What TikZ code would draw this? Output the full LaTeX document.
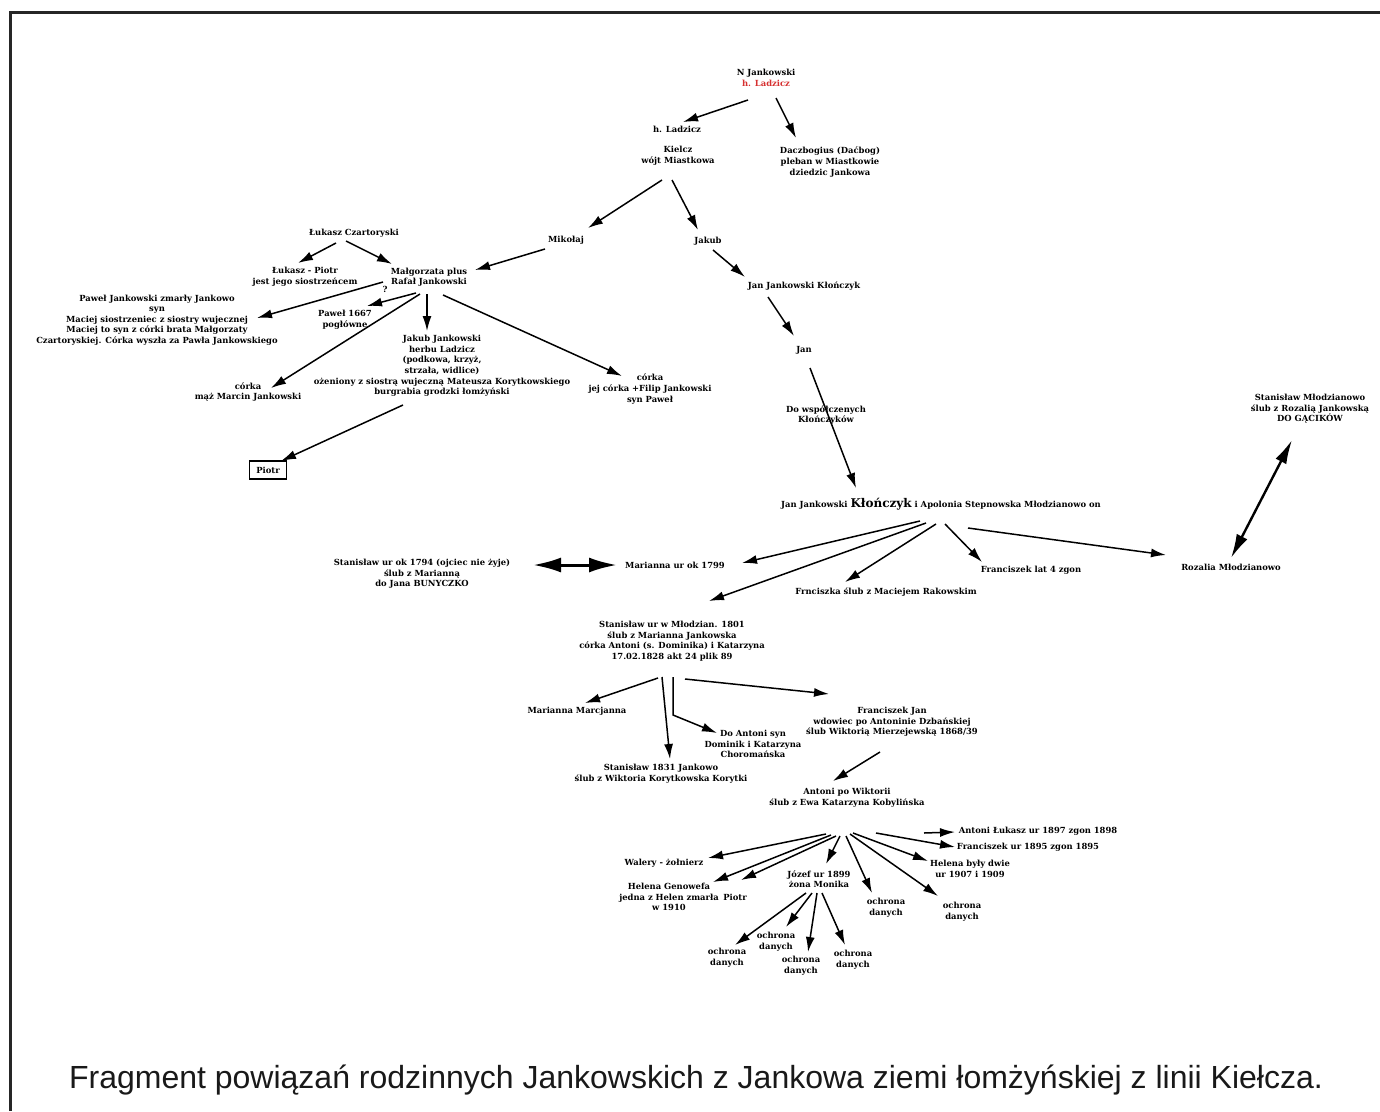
\documentclass[tikz,border=0pt]{standalone}
\usepackage{fontspec}
\usepackage{xcolor}
\usepackage{tikz}
\usetikzlibrary{arrows.meta,calc}
\newfontfamily\treefont{DejaVu Serif}
\newfontfamily\capfont{Liberation Sans}
\definecolor{ladred}{RGB}{214,48,48}
\tikzset{
  person/.style={font=\treefont\bfseries\fontsize{8.4}{10.6}\selectfont, align=center, inner sep=1pt},
  boxed/.style={person, draw, line width=1.5pt, minimum width=37, minimum height=18, inner sep=0pt},
  kin/.style={-{Latex[length=15pt,width=9pt]}, line width=1.5pt},
  bond/.style={{Latex[length=28pt,width=15pt]}-{Latex[length=28pt,width=15pt]}, line width=3pt},
  pairline/.style={{Latex[length=24pt,width=12pt]}-{Latex[length=24pt,width=12pt]}, line width=2.4pt},
  frame/.style={draw=black!85, line width=3pt},
  caption/.style={font=\capfont\fontsize{32}{36}\selectfont, text=black!90, inner sep=0pt}
}

\begin{document}
\begin{tikzpicture}[x=1pt,y=-1pt]
  \useasboundingbox (0,0) rectangle (1380,1111);
  \draw[frame] (10,1111) -- (10,12) -- (1380,12);
  % top of the line
  \node[person] (nj) at (766,78) {N Jankowski\\\textcolor{ladred}{h. Ladzicz}};
  \node[person] (ladzicz) at (677,129) {h. Ladzicz};
  \node[person] (kielcz) at (678,156) {Kielcz\\wójt Miastkowa};
  \node[person] (dacz) at (830,162) {Daczbogius (Daćbog)\\pleban w Miastkowie\\dziedzic Jankowa};
  \node[person] (mikolaj) at (566,240) {Mikołaj};
  \node[person] (jakub) at (708,241) {Jakub};
  \node[person] (janklon) at (804,286) {Jan Jankowski Kłończyk};
  \node[person] (jan) at (804,350) {Jan};
  \node[person] (dowsp) at (826,415) {Do współczenych\\Kłończyków};
  % Czartoryscy
  \node[person] (lukasz) at (354,233) {Łukasz Czartoryski};
  \node[person] (lukpiotr) at (305,277) {Łukasz - Piotr\\jest jego siostrzeńcem};
  \node[person] (malg) at (429,277) {Małgorzata plus\\Rafał Jankowski};
  \node[person] (pytanie) at (385,289) {?};
  \node[person] (pawelj) at (157,320) {Paweł Jankowski zmarły Jankowo\\syn\\Maciej siostrzeniec z siostry wujecznej\\Maciej to syn z córki brata Małgorzaty\\Czartoryskiej. Córka wyszła za Pawła Jankowskiego};
  \node[person] (pawel1667) at (345,320) {Paweł 1667\\pogłówne};
  \node[person] (jakubj) at (442,366) {Jakub Jankowski\\herbu Ladzicz\\(podkowa, krzyż,\\strzała, widlice)\\ożeniony z siostrą wujeczną Mateusza Korytkowskiego\\burgrabia grodzki łomżyński};
  \node[person] (corka1) at (248,392) {córka\\mąż Marcin Jankowski};
  \node[boxed] (piotr1) at (268,470) {Piotr};
  \node[person] (corka2) at (650,389) {córka\\jej córka +Filip Jankowski\\syn Paweł};
  % Kłończykowie
  \node[person] (para) at (941,504) {Jan Jankowski {\fontsize{12}{12}\selectfont Kłończyk} i Apolonia Stepnowska Młodzianowo on};
  \node[person] (stan1794) at (422,574) {Stanisław ur ok 1794 (ojciec nie żyje)\\ślub z Marianną\\do Jana BUNYCZKO};
  \node[person] (marianna) at (675,565) {Marianna ur ok 1799};
  \node[person] (fr4) at (1031,570) {Franciszek lat 4 zgon};
  \node[person] (frnc) at (886,592) {Frnciszka ślub z Maciejem Rakowskim};
  \node[person] (rozalia) at (1231,567) {Rozalia Młodzianowo};
  \node[person] (stanmlodz) at (1310,409) {Stanisław Młodzianowo\\ślub z Rozalią Jankowską\\DO GĄCIKÓW};
  \node[person] (stan1801) at (672,641) {Stanisław ur w Młodzian. 1801\\ślub z Marianna Jankowska\\córka Antoni (s. Dominika) i Katarzyna\\17.02.1828 akt 24 plik 89};
  \node[person] (mmarc) at (577,711) {Marianna Marcjanna};
  \node[person] (stan1831) at (661,774) {Stanisław 1831 Jankowo\\ślub z Wiktoria Korytkowska Korytki};
  \node[person] (doantoni) at (753,744) {Do Antoni syn\\Dominik i Katarzyna\\Choromańska};
  \node[person] (franjan) at (892,722) {Franciszek Jan\\wdowiec po Antoninie Dzbańskiej\\ślub Wiktorią Mierzejewską 1868/39};
  \node[person] (antoni) at (847,798) {Antoni po Wiktorii\\ślub z Ewa Katarzyna Kobylińska};
  \node[person] (walery) at (664,863) {Walery - żołnierz};
  \node[person] (helgen) at (669,897) {Helena Genowefa\\jedna z Helen zmarła\\w 1910};
  \node[person] (piotr2) at (735,897) {Piotr};
  \node[person] (jozef) at (819,879) {Józef ur 1899\\żona Monika};
  \node[person] (och1) at (886,908) {ochrona\\danych};
  \node[person] (och2) at (962,912) {ochrona\\danych};
  \node[person] (helbyly) at (970,869) {Helena były dwie\\ur 1907 i 1909};
  \node[person] (fr1895) at (1028,847) {Franciszek ur 1895 zgon 1895};
  \node[person] (antluk) at (1038,831) {Antoni Łukasz ur 1897 zgon 1898};
  \node[person] (och3) at (727,958) {ochrona\\danych};
  \node[person] (och4) at (776,942) {ochrona\\danych};
  \node[person] (och5) at (801,966) {ochrona\\danych};
  \node[person] (och6) at (853,960) {ochrona\\danych};
  \coordinate (lukstub) at (924,833);
  \node[caption, anchor=base] (cap) at (696,1088) {Fragment powiązań rodzinnych Jankowskich z Jankowa ziemi łomżyńskiej z linii Kiełcza.};
  % connectors
  \draw[kin] ([shift={(-18,22)}]nj.center) -- ([shift={(6,-7)}]ladzicz.center);
  \draw[kin] ([shift={(10,20)}]nj.center) -- ([shift={(-34,-24)}]dacz.center);
  \draw[kin] ([shift={(-16,24)}]kielcz.center) -- ([shift={(22,-12)}]mikolaj.center);
  \draw[kin] ([shift={(-6,24)}]kielcz.center) -- ([shift={(-10,-11)}]jakub.center);
  \draw[kin] ([shift={(-21,9)}]mikolaj.center) -- ([shift={(46,-7)}]malg.center);
  \draw[kin] ([shift={(5,9)}]jakub.center) -- ([shift={(-59,-9)}]janklon.center);
  \draw[kin] ([shift={(-36,11)}]janklon.center) -- ([shift={(-10,-14)}]jan.center);
  \draw[kin] ([shift={(6,18)}]jan.center) -- ([shift={(-85,-16)}]para.center);
  \draw[kin] ([shift={(-18,10)}]lukasz.center) -- ([shift={(-7,-14)}]lukpiotr.center);
  \draw[kin] ([shift={(-8,8)}]lukasz.center) -- ([shift={(-37,-13)}]malg.center);
  \draw[kin] ([shift={(-46,5)}]malg.center) -- ([shift={(100,-2)}]pawelj.center);
  \draw[kin] ([shift={(-13,16)}]malg.center) -- ([shift={(22,-14)}]pawel1667.center);
  \draw[kin] ([shift={(-9,17)}]malg.center) -- ([shift={(23,-4)}]corka1.center);
  \draw[kin] ([shift={(-2,17)}]malg.center) -- ([shift={(-15,-35)}]jakubj.center);
  \draw[kin] ([shift={(14,18)}]malg.center) -- ([shift={(-28,-13)}]corka2.center);
  \draw[kin] ([shift={(-39,39)}]jakubj.center) -- ([shift={(13,-9)}]piotr1.center);
  \draw[kin] ([shift={(-21,17)}]para.center) -- ([shift={(67,-2)}]marianna.center);
  \draw[kin] ([shift={(-15,19)}]para.center) -- ([shift={(37,-40)}]stan1801.center);
  \draw[kin] ([shift={(-5,20)}]para.center) -- ([shift={(-41,-10)}]frnc.center);
  \draw[kin] ([shift={(4,20)}]para.center) -- ([shift={(-49,-8)}]fr4.center);
  \draw[kin] ([shift={(27,24)}]para.center) -- ([shift={(-65,-12)}]rozalia.center);
  \draw[bond] ([shift={(111,-9)}]stan1794.center) -- ([shift={(-58,0)}]marianna.center);
  \draw[pairline] ([shift={(0,-9)}]rozalia.center) -- ([shift={(-18,31)}]stanmlodz.center);
  \draw[kin] ([shift={(-14,37)}]stan1801.center) -- ([shift={(8,-8)}]mmarc.center);
  \draw[kin] ([shift={(-10,36)}]stan1801.center) -- ([shift={(9,-15)}]stan1831.center);
  \draw[kin] ([shift={(1,36)}]stan1801.center) -- ([shift={(1,74)}]stan1801.center) -- ([shift={(-36,-11)}]doantoni.center);
  \draw[kin] ([shift={(13,38)}]stan1801.center) -- ([shift={(-63,-28)}]franjan.center);
  \draw[kin] ([shift={(-12,30)}]franjan.center) -- ([shift={(-14,-17)}]antoni.center);
  \draw[kin] ([shift={(-21,36)}]antoni.center) -- ([shift={(44,-5)}]walery.center);
  \draw[kin] ([shift={(-16,37)}]antoni.center) -- ([shift={(44,-15)}]helgen.center);
  \draw[kin] ([shift={(-11,38)}]antoni.center) -- ([shift={(6,-17)}]piotr2.center);
  \draw[kin] ([shift={(-7,38)}]antoni.center) -- ([shift={(7,-15)}]jozef.center);
  \draw[kin] ([shift={(-1,38)}]antoni.center) -- ([shift={(-14,-15)}]och1.center);
  \draw[kin] ([shift={(3,36)}]antoni.center) -- ([shift={(-24,-16)}]och2.center);
  \draw[kin] ([shift={(6,35)}]antoni.center) -- ([shift={(-42,-8)}]helbyly.center);
  \draw[kin] ([shift={(29,35)}]antoni.center) -- ([shift={(-73,0)}]fr1895.center);
  \draw[kin] (lukstub) -- ([shift={(-83,1)}]antluk.center);
  \draw[kin] ([shift={(-13,14)}]jozef.center) -- ([shift={(8,-13)}]och3.center);
  \draw[kin] ([shift={(-7,14)}]jozef.center) -- ([shift={(10,-15)}]och4.center);
  \draw[kin] ([shift={(-2,14)}]jozef.center) -- ([shift={(7,-14)}]och5.center);
  \draw[kin] ([shift={(3,14)}]jozef.center) -- ([shift={(-8,-15)}]och6.center);
\end{tikzpicture}
\end{document}
